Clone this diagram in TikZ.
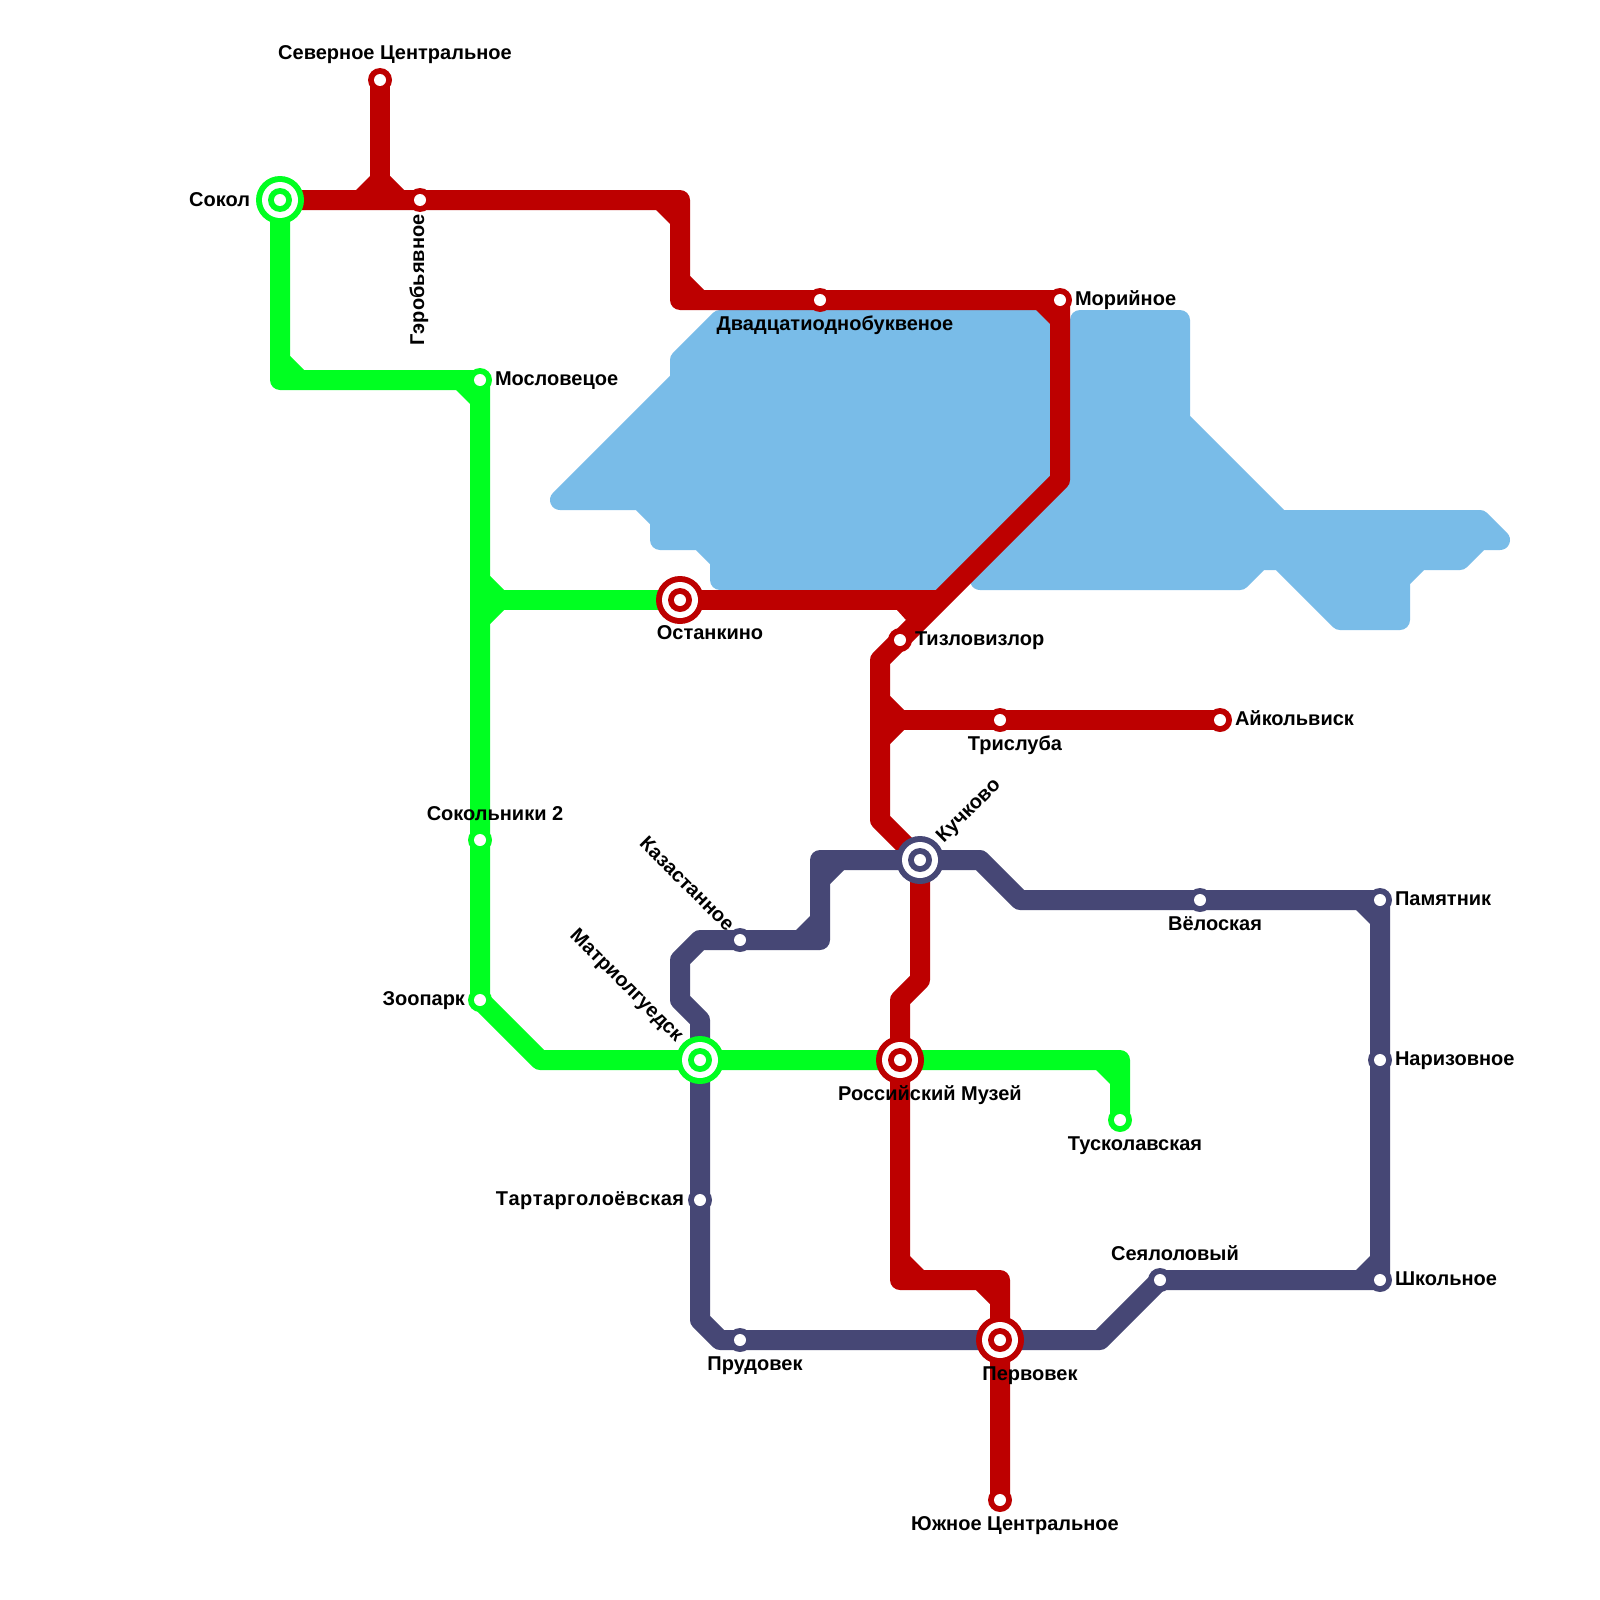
\documentclass[tikz,border=0pt]{standalone}
\usepackage{fontspec}
\setmainfont{Liberation Sans}
\pgfdeclarelayer{water}
\pgfdeclarelayer{lines}
\pgfsetlayers{water,lines,main}
\definecolor{redline}{HTML}{BD0000}
\definecolor{greenline}{HTML}{00FF21}
\definecolor{navyline}{HTML}{464775}
\definecolor{waterblue}{HTML}{79BCE8}
\tikzset{
  x=1pt,y=-1pt,
  metro/.style={line width=20pt,line join=round,line cap=butt},
  lake/.style={fill=waterblue,draw=waterblue,line width=20pt,line join=round},
  stop/.style={circle,fill=#1,minimum size=24pt,inner sep=0pt,outer sep=0pt,
    path picture={\fill[white] (path picture bounding box.center) circle (6pt);}},
  hub/.style={circle,fill=#1,minimum size=48pt,inner sep=0pt,outer sep=0pt,
    path picture={
      \fill[white] (path picture bounding box.center) circle (18pt);
      \fill[#1] (path picture bounding box.center) circle (12pt);
      \fill[white] (path picture bounding box.center) circle (6pt);}},
  lbl/.style={font=\fontsize{20}{22}\selectfont\bfseries,text=black,inner sep=0pt,outer sep=0pt,text height=14pt,text depth=4pt},
}
% inner corner fillet: vertex, colour, x sign, y sign
\newcommand{\fillet}[4]{\fill[#2] ([shift={(#3*10,#4*24)}]#1) -- ([shift={(#3*24,#4*10)}]#1) -- ([shift={(#3*9,#4*9)}]#1) -- cycle;}
\begin{document}
\begin{tikzpicture}
\useasboundingbox (0,0) rectangle (1600,1600);

% stations
\node[hub=greenline] (sokol) at (280,200) {};
\node[stop=redline] (sever) at (380,80) {};
\node[stop=redline] (gero) at (420,200) {};
\node[stop=redline] (dvad) at (820,300) {};
\node[stop=redline] (mori) at (1060,300) {};
\node[hub=redline] (ostan) at (680,600) {};
\node[stop=redline] (tizlo) at (900,640) {};
\node[stop=redline] (tris) at (1000,720) {};
\node[stop=redline] (aikol) at (1220,720) {};
\node[stop=greenline] (moslo) at (480,380) {};
\node[stop=greenline] (sokol2) at (480,840) {};
\node[stop=greenline] (zoo) at (480,1000) {};
\node[hub=greenline] (matri) at (700,1060) {};
\node[hub=redline] (rosmus) at (900,1060) {};
\node[stop=greenline] (tusk) at (1120,1120) {};
\node[hub=navyline] (kuch) at (920,860) {};
\node[stop=navyline] (kazas) at (740,940) {};
\node[stop=navyline] (velo) at (1200,900) {};
\node[stop=navyline] (pamy) at (1380,900) {};
\node[stop=navyline] (nari) at (1380,1060) {};
\node[stop=navyline] (shko) at (1380,1280) {};
\node[stop=navyline] (seya) at (1160,1280) {};
\node[stop=navyline] (tart) at (700,1200) {};
\node[stop=navyline] (prud) at (740,1340) {};
\node[hub=redline] (perv) at (1000,1340) {};
\node[stop=redline] (yuzh) at (1000,1500) {};

% line bends and junctions
\coordinate (jn) at (380,200);
\coordinate (r1) at (680,200);
\coordinate (r2) at (680,300);
\coordinate (r3) at (1060,480);
\coordinate (jo) at (940,600);
\coordinate (r4) at (880,660);
\coordinate (jt) at (880,720);
\coordinate (r5) at (880,820);
\coordinate (r6) at (920,980);
\coordinate (r7) at (900,1000);
\coordinate (r8) at (900,1280);
\coordinate (r9) at (1000,1280);
\coordinate (g1) at (280,380);
\coordinate (jg) at (480,600);
\coordinate (g2) at (540,1060);
\coordinate (g3) at (1120,1060);
\coordinate (n1) at (700,1020);
\coordinate (n2) at (680,1000);
\coordinate (n3) at (680,960);
\coordinate (n4) at (700,940);
\coordinate (n5) at (820,940);
\coordinate (n6) at (820,860);
\coordinate (n7) at (980,860);
\coordinate (n8) at (1020,900);
\coordinate (n9) at (1100,1340);
\coordinate (n10) at (720,1340);
\coordinate (n11) at (700,1320);

\begin{pgfonlayer}{water}
\fill[white] (0,0) rectangle (1600,1600);
\filldraw[lake]
  (560,500) -- (680,380) -- (680,360) -- (720,320) -- (1040,320) -- (1040,480) -- (940,580)
  -- (720,580) -- (720,560) -- (700,540) -- (660,540) -- (660,520) -- (640,500) -- cycle;
\filldraw[lake]
  (1080,320) -- (1180,320) -- (1180,420)
  -- (1280,520) -- (1480,520) -- (1500,540) -- (1480,540) -- (1460,560) -- (1420,560)
  -- (1400,580) -- (1400,620) -- (1340,620) -- (1280,560) -- (1260,560) -- (1240,580)
  -- (980,580) -- (1080,480) -- cycle;
\end{pgfonlayer}

\begin{pgfonlayer}{lines}
% red
\draw[metro,redline] (sokol.center) -- (gero.center) -- (r1) -- (r2) -- (dvad.center) -- (mori.center) -- (r3) -- (r4) -- (jt) -- (r5) -- (kuch.center) -- (r6) -- (r7) -- (rosmus.center) -- (r8) -- (r9) -- (perv.center) -- (yuzh.center);
\draw[metro,redline] (sever.center) -- (jn);
\draw[metro,redline] (ostan.center) -- (jo);
\draw[metro,redline] (jt) -- (tris.center) -- (aikol.center);
\fillet{jn}{redline}{-1}{-1}
\fillet{jn}{redline}{1}{-1}
\fillet{r1}{redline}{-1}{1}
\fillet{r2}{redline}{1}{-1}
\fillet{mori.center}{redline}{-1}{1}
\fillet{jt}{redline}{1}{-1}
\fillet{jt}{redline}{1}{1}
\fillet{r8}{redline}{1}{-1}
\fill[redline] ([shift={(-43,10)}]jo) -- ([shift={(-34,20)}]jo) -- ([shift={(-10,10)}]jo) -- cycle;
\fillet{r9}{redline}{-1}{1}
% navy
\draw[metro,navyline] (matri.center) -- (n1) -- (n2) -- (n3) -- (n4) -- (kazas.center) -- (n5) -- (n6) -- (kuch.center) -- (n7) -- (n8) -- (velo.center) -- (pamy.center) -- (nari.center) -- (shko.center) -- (seya.center) -- (n9) -- (perv.center) -- (prud.center) -- (n10) -- (n11) -- (tart.center) -- (matri.center);
\fillet{n5}{navyline}{-1}{-1}
\fillet{n6}{navyline}{1}{1}
\fillet{pamy.center}{navyline}{-1}{1}
\fillet{shko.center}{navyline}{-1}{-1}
% green
\draw[metro,greenline] (sokol.center) -- (g1) -- (moslo.center) -- (sokol2.center) -- (zoo.center) -- (g2) -- (matri.center) -- (rosmus.center) -- (g3) -- (tusk.center);
\draw[metro,greenline] (jg) -- (ostan.center);
\fillet{g1}{greenline}{1}{-1}
\fillet{moslo.center}{greenline}{-1}{1}
\fillet{jg}{greenline}{1}{-1}
\fillet{jg}{greenline}{1}{1}
\fillet{g3}{greenline}{-1}{1}
\end{pgfonlayer}

% labels
\node[lbl] (t1) at (395,55) {Северное Центральное};
\node[lbl,anchor=east] (t2) at (250,201) {Сокол};
\node[lbl,rotate=90] (t3) at (419,280) {Гэробьявное};
\node[lbl,anchor=west] (t4) at (495,380) {Мословецое};
\node[lbl] (t5) at (835,325) {Двадцатиоднобуквеное};
\node[lbl,anchor=west] (t6) at (1075,300) {Морийное};
\node[lbl] (t7) at (710,634) {Останкино};
\node[lbl,anchor=west] (t8) at (915,640) {Тизловизлор};
\node[lbl] (t9) at (1015,745) {Трислуба};
\node[lbl,anchor=west] (t10) at (1235,720) {Айкольвиск};
\node[lbl] (t11) at (495,815) {Сокольники 2};
\node[lbl,rotate=45] (t12) at (969,811) {Кучково};
\node[lbl,rotate=-45] (t13) at (686,885) {Казастанное};
\node[lbl,anchor=west] (t14) at (1395,900) {Памятник};
\node[lbl] (t15) at (1215,925) {Вёлоская};
\node[lbl,rotate=-45] (t16) at (626,986) {Матриолгуедск};
\node[lbl,anchor=east] (t17) at (465,1000) {Зоопарк};
\node[lbl] (t18) at (930,1095) {Российский Музей};
\node[lbl,anchor=west] (t19) at (1395,1060) {Наризовное};
\node[lbl] (t20) at (1135,1145) {Тусколавская};
\node[lbl,anchor=east] (t21) at (684,1200) {\addfontfeature{Kerning=Off,LetterSpace=2.2}Тартарголоёвская};
\node[lbl] (t22) at (1175,1255) {Сеялоловый};
\node[lbl,anchor=west] (t23) at (1395,1280) {Школьное};
\node[lbl] (t24) at (755,1365) {Прудовек};
\node[lbl] (t25) at (1030,1375) {Первовек};
\node[lbl] (t26) at (1015,1525) {Южное Центральное};
\end{tikzpicture}
\end{document}
